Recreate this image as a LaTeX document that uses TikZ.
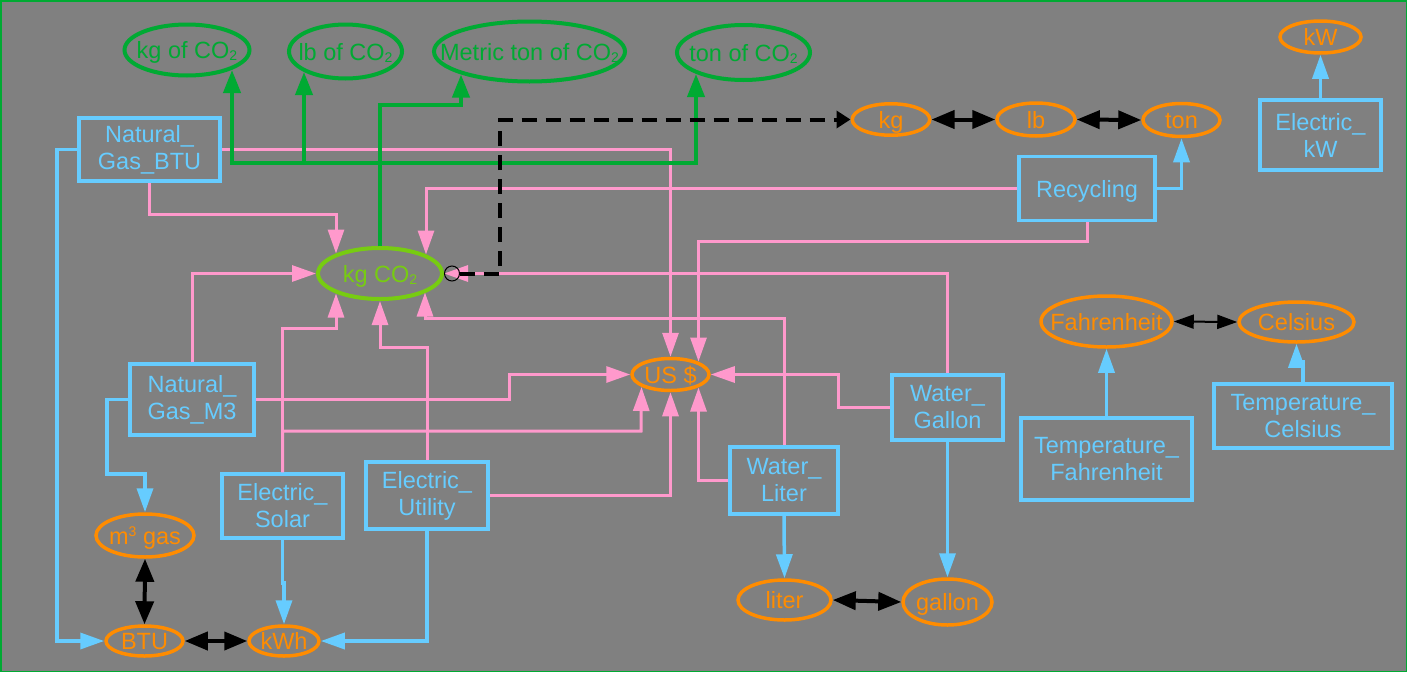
\documentclass[tikz,border=0pt]{standalone}
\usepackage{fontspec}
\setmainfont{Liberation Sans}
\usetikzlibrary{shapes.geometric,arrows.meta,calc}
\definecolor{bg}{RGB}{128,128,128}
\definecolor{cpink}{RGB}{255,153,204}
\definecolor{cblue}{RGB}{102,204,255}
\definecolor{corange}{RGB}{255,140,0}
\definecolor{cgreen}{RGB}{0,170,51}
\definecolor{cygreen}{RGB}{119,204,17}
\newcommand{\dfont}{\fontsize{23.5pt}{27pt}\selectfont}
\newcommand{\mk}[1]{\makebox[0pt][c]{#1}}
\newcommand{\subtwo}{\raisebox{-2pt}{\fontsize{14pt}{14pt}\selectfont 2}}
\newcommand{\supthree}{\raisebox{8pt}{\fontsize{14pt}{14pt}\selectfont 3}}
\begin{document}
\begin{tikzpicture}[x=1pt,y=-1pt,
  boxn/.style={rectangle,draw=cblue,text=cblue,line width=3.5pt,inner sep=0pt,align=center,font=\dfont},
  ell/.style={ellipse,draw=corange,text=corange,line width=3.5pt,inner sep=0pt,font=\dfont,text height=17.5pt,text depth=0pt},
  gell/.style={ell,draw=cgreen,text=cgreen,line width=4pt},
  pinkc/.style={draw=cpink,line width=3pt,-{Triangle[length=24pt,width=16pt]}},
  bluec/.style={draw=cblue,line width=3.5pt,-{Triangle[length=24pt,width=16pt]}},
  greenc/.style={draw=cgreen,line width=4pt,-{Triangle[length=23pt,width=17pt]}},
  blkc/.style={draw=black,line width=4pt,{Triangle[length=23pt,width=18pt]}-{Triangle[length=23pt,width=18pt]}},
  blkthin/.style={draw=black,line width=2pt,{Triangle[length=20pt,width=14pt]}-{Triangle[length=20pt,width=14pt]}},
  dashc/.style={draw=black,line width=4pt,dash pattern=on 15pt off 9pt,{Circle[open,length=16pt,width=16pt,line width=1pt]}-{Triangle[length=14pt,width=17pt]}}
]
\useasboundingbox (0,0) rectangle (1407,672);
\fill[bg] (0,0) rectangle (1407,672);
\draw[cgreen,line width=1.5pt] (0.75,0.75) rectangle (1406.25,671.25);

% green ellipses
\node[gell,minimum width=125pt,minimum height=51pt] (kgof) at (187,50) {\mk{kg of CO\subtwo}};
\node[gell,minimum width=113pt,minimum height=54pt] (lbof) at (345.5,51.5) {\mk{lb of CO\subtwo}};
\node[gell,minimum width=191pt,minimum height=60pt] (metric) at (529.5,51.5) {\mk{Metric ton of CO\subtwo}};
\node[gell,minimum width=133pt,minimum height=55pt] (tonof) at (743.5,52.5) {\mk{ton of CO\subtwo}};
\node[gell,draw=cygreen,text=cygreen,minimum width=124pt,minimum height=51pt] (kgco2) at (380,273.5) {\mk{kg CO\subtwo}};

% orange ellipses
\node[ell,minimum width=77.5pt,minimum height=31.5pt] (kg) at (891,119.5) {\mk{kg}};
\node[ell,minimum width=78pt,minimum height=33pt] (lb) at (1036,119.5) {\mk{lb}};
\node[ell,minimum width=77pt,minimum height=33pt] (ton) at (1181.5,120) {\mk{ton}};
\node[ell,minimum width=81pt,minimum height=32pt] (kw) at (1320.5,37) {\mk{kW}};
\node[ell,minimum width=77pt,minimum height=32pt] (us) at (670.5,374.5) {\mk{US \$}};
\node[ell,minimum width=98pt,minimum height=43pt] (m3) at (145,535.5) {\mk{m\supthree{} gas}};
\node[ell,minimum width=77pt,minimum height=30pt] (btu) at (144.5,641) {\mk{BTU}};
\node[ell,minimum width=70pt,minimum height=30pt] (kwh) at (284,641) {\mk{kWh}};
\node[ell,minimum width=93pt,minimum height=40pt] (liter) at (784.5,600) {\mk{liter}};
\node[ell,minimum width=89pt,minimum height=46pt] (gallon) at (947.5,602) {\mk{gallon}};
\node[ell,minimum width=131pt,minimum height=51pt] (fahr) at (1106.5,321.5) {\mk{Fahrenheit}};
\node[ell,minimum width=115pt,minimum height=40pt] (cels) at (1296.5,322) {\mk{Celsius}};

% boxes
\node[boxn,minimum width=141pt,minimum height=63pt] (ngbtu) at (149.5,149.5) {Natural\_\\Gas\_BTU};
\node[boxn,minimum width=124pt,minimum height=71pt] (ngm3) at (192,399.5) {Natural\_\\Gas\_M3};
\node[boxn,minimum width=121pt,minimum height=64pt] (esol) at (282.5,506) {Electric\_\\Solar};
\node[boxn,minimum width=122pt,minimum height=67pt] (eutil) at (427,495.5) {Electric\_\\Utility};
\node[boxn,minimum width=108pt,minimum height=67pt] (wlit) at (784,480.5) {Water\_\\Liter};
\node[boxn,minimum width=111pt,minimum height=65pt] (wgal) at (947.5,407.5) {Water\_\\Gallon};
\node[boxn,minimum width=136pt,minimum height=64pt,text height=17.5pt,text depth=0pt] (recyc) at (1087,188.5) {Recycling};
\node[boxn,minimum width=121pt,minimum height=70pt] (ekw) at (1320.5,135) {Electric\_\\kW};
\node[boxn,minimum width=171pt,minimum height=82pt] (tf) at (1106.5,459) {Temperature\_\\Fahrenheit};
\node[boxn,minimum width=178pt,minimum height=64pt] (tc) at (1303,416) {Temperature\_\\Celsius};

% pink connectors
\draw[pinkc] (ngbtu.south) |- (336,214) -- ($(kgco2.center)+(-44,-20)$);
\draw[pinkc] (ngbtu.east) -| (us.north);
\draw[pinkc] (recyc.west) -| ($(kgco2.center)+(46,-19)$);
\draw[pinkc] (recyc.south) -- (1087,241) -| ($(us.center)+(28,-13)$);
\draw[pinkc] (wgal.north) |- (kgco2.east);
\draw[pinkc] (wlit.north) |- (425,318) -- ($(kgco2.center)+(45,19)$);
\draw[pinkc] (ngm3.north) |- (kgco2.west);
\draw[pinkc] (ngm3.east) -- (509,399.5) |- (us.west);
\draw[pinkc] (esol.north) |- (336,328) -- ($(kgco2.center)+(-44,20)$);
\draw[pinkc] (esol.north) |- (641,431) -- ($(us.center)+(-29,12.5)$);
\draw[pinkc] (eutil.north) |- (380,347) -- (kgco2.south);
\draw[pinkc] (eutil.east) -| (us.south);
\draw[pinkc] (wlit.west) -| ($(us.center)+(28,13)$);
\draw[pinkc] (wgal.west) -- (838,407.5) |- (us.east);

% green connectors
\draw[greenc] (kgco2.north) -- (380,163) -| ($(kgof.center)+(45,20)$);
\draw[greenc] (kgco2.north) -- (380,163) -| ($(lbof.center)+(-41.5,20.5)$);
\draw[greenc] (kgco2.north) -- (380,105) -| ($(metric.center)+(-68.5,23)$);
\draw[greenc] (kgco2.north) -- (380,163) -| ($(tonof.center)+(-47.5,21.5)$);

% blue connectors
\draw[bluec] (ngbtu.west) -- (57,149.5) |- (btu.west);
\draw[bluec] (ngm3.west) -- (107,399.5) |- (145,474) -- (m3.north);
\draw[bluec] (esol.south) -- (282.5,583) -| (kwh.north);
\draw[bluec] (eutil.south) |- (kwh.east);
\draw[bluec] (wlit.south) -- (liter.north);
\draw[bluec] (wgal.south) -- (gallon.north);
\draw[bluec] (recyc.east) -| (ton.south);
\draw[bluec] (ekw.north) -- (kw.south);
\draw[bluec] (tf.north) -- (fahr.south);
\draw[bluec] (tc.north) -- (1303,362) -| (cels.south);

% black connectors
\draw[blkc] (m3.south) -- (btu.north);
\draw[blkc] (btu.east) -- (kwh.west);
\draw[blkc] (kg.east) -- (lb.west);
\draw[blkc] (lb.east) -- (ton.west);
\draw[blkc] (liter.east) -- (gallon.west);
\draw[blkthin] (fahr.east) -- (cels.west);
\draw[dashc] (kgco2.east) -- (500,273.5) |- (kg.west);
\end{tikzpicture}
\end{document}
